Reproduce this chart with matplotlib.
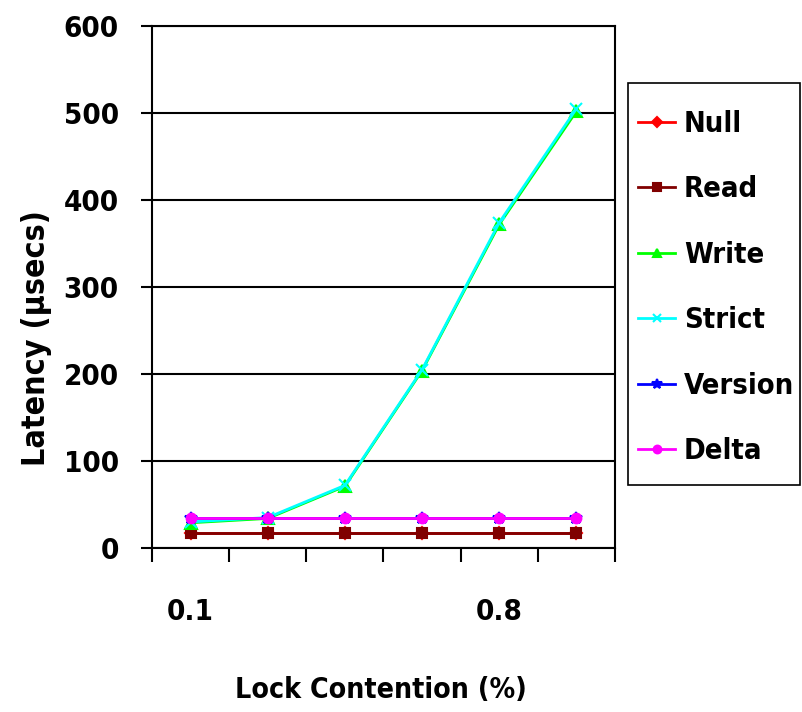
import matplotlib
matplotlib.use("Agg")
import matplotlib.pyplot as plt
from matplotlib import font_manager
from matplotlib.font_manager import FontProperties
from matplotlib.patches import Rectangle

# Lock contention levels and measured latencies (usecs)
contention = ["0.1", "0.2", "0.4", "0.6", "0.8", "1.0"]
tick_labels = ["0.1", "", "", "", "0.8", ""]
null_lat = [17, 17, 17, 17, 17, 17]
read_lat = [17, 17, 17, 17, 17, 17]
write_lat = [29, 34, 71, 204, 372, 502]
strict_lat = [30, 35, 72, 205, 374, 505]
version_lat = [35, 35, 35, 35, 35, 35]
delta_lat = [35, 35, 35, 35, 35, 35]


def pick_font():
    """Return the path of a narrow bold sans face, if one is installed."""
    best = None
    for f in font_manager.fontManager.ttflist:
        p = str(f.fname).lower()
        if "bold" not in p or "oblique" in p or "italic" in p:
            continue
        if "narrow" in p and "liberation" in p:
            rank = 0
        elif "narrow" in p or ("condensed" in p and "sans" in p and "mono" not in p):
            rank = 1
        else:
            continue
        if best is None or rank < best[0]:
            best = (rank, f.fname)
    return best[1] if best else None


font_path = pick_font()


def fp(size):
    if font_path:
        return FontProperties(fname=font_path, size=size)
    return FontProperties(family="Liberation Sans", weight="bold", size=size)


W, H = 802, 712
fig = plt.figure(figsize=(W / 100, H / 100), dpi=100)
renderer = fig.canvas.get_renderer()


def fit_size(text, target_px, start=24, cap=40):
    t = fig.text(0, 0, text, fontproperties=fp(start))
    w = t.get_window_extent(renderer).width
    t.remove()
    return min(cap, start * target_px / w)


leg_fs = fit_size("Version", 110, cap=26)
tick_fs = fit_size("600", 55, cap=26)
xlab_fs = fit_size("Lock Contention (%)", 292, cap=28)
ylab_fs = fit_size("Latency (\u00b5secs)", 300, cap=23)

ax = fig.add_axes([152 / W, 1 - 548 / H, (615 - 152) / W, (548 - 26) / H])

x = [i + 0.5 for i in range(len(contention))]
series = [
    ("Null", null_lat, "#ff0000", "D", 6),
    ("Read", read_lat, "#800000", "s", 7),
    ("Write", write_lat, "#00ff00", "^", 8),
    ("Strict", strict_lat, "#00ffff", "x", 8),
    ("Version", version_lat, "#0000ff", "*", 9),
    ("Delta", delta_lat, "#ff00ff", "o", 7),
]
for name, vals, col, mk, ms in series:
    ax.plot(x, vals, color=col, marker=mk, markersize=ms, linewidth=2,
            markeredgecolor=col, markeredgewidth=1.5, label=name, clip_on=False)

ax.set_xlim(0, 6)
ax.set_ylim(0, 600)
ax.set_yticks(range(0, 601, 100))
ax.yaxis.grid(True, color="black", linewidth=1.5)
ax.set_axisbelow(True)
for s in ax.spines.values():
    s.set_color("black")
    s.set_linewidth(1.5)

ax.set_xticks(range(0, 7))
ax.set_xticklabels([])
ax.set_xticks(x, minor=True)
ax.set_xticklabels(tick_labels, minor=True)
ax.tick_params(axis="x", which="major", direction="out", length=10, width=1.5)
ax.tick_params(axis="x", which="minor", length=0, pad=36)
ax.tick_params(axis="y", direction="out", length=8, width=1.5, pad=16)
for t in ax.get_xticklabels(minor=True) + ax.get_yticklabels():
    t.set_fontproperties(fp(tick_fs))

fig.text(381 / W, 1 - 690 / H, "Lock Contention (%)", ha="center", va="center",
         fontproperties=fp(xlab_fs))
fig.text(37 / W, 1 - 338 / H, "Latency (\u00b5secs)", ha="center", va="center",
         rotation=90, fontproperties=fp(ylab_fs))

# Legend frame drawn separately so the padding can be set per side
fig.patches.append(Rectangle((628 / W, 1 - 485 / H), (800 - 628) / W, (485 - 83) / H,
                             transform=fig.transFigure, fill=False,
                             edgecolor="black", linewidth=1.2))
fpx = leg_fs * 100 / 72
leg = ax.legend(loc="upper left", bbox_to_anchor=(638 / W, 1 - 110 / H),
                bbox_transform=fig.transFigure, frameon=False,
                borderaxespad=0, borderpad=0, prop=fp(leg_fs),
                handlelength=37 / fpx, labelspacing=(66.4 - 1.0 * fpx) / fpx,
                handletextpad=9 / fpx, markerscale=0.8)

fig.savefig("out.png", dpi=100)
